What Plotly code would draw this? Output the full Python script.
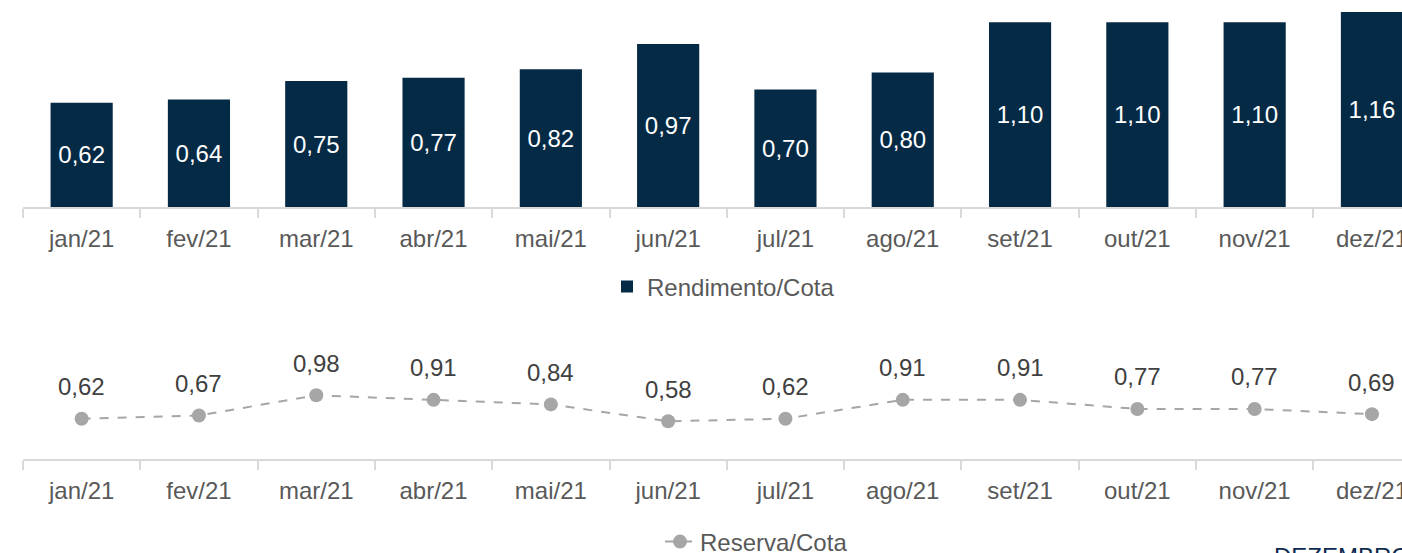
import plotly.graph_objects as go

months = ["jan/21", "fev/21", "mar/21", "abr/21", "mai/21", "jun/21",
          "jul/21", "ago/21", "set/21", "out/21", "nov/21", "dez/21"]
rendimento = [0.62, 0.64, 0.75, 0.77, 0.82, 0.97, 0.70, 0.80, 1.10, 1.10, 1.10, 1.16]
reserva = [0.62, 0.67, 0.98, 0.91, 0.84, 0.58, 0.62, 0.91, 0.91, 0.77, 0.77, 0.69]

W, H = 1402, 553
FONT = "Liberation Sans, Arial, sans-serif"
NAVY = "#042a46"
GREY = "#a6a6a6"
FS = 24

def fmt(v):
    return f"{v:.2f}".replace(".", ",")

def py(p):
    return 1 - p / H

xdom = [23 / W, 1.0]
cat_w = 117.3
xmax = -0.5 + (W - 23) / cat_w

fig = go.Figure()
fig.add_trace(go.Bar(
    x=months, y=rendimento, name="Rendimento/Cota",
    marker=dict(color=NAVY, line=dict(width=0)),
    width=0.53,
    text=[fmt(v) for v in rendimento], textposition="inside",
    insidetextanchor="middle", constraintext="none",
    textfont=dict(color="white", size=FS, family=FONT),
    xaxis="x", yaxis="y", legend="legend",
))
fig.add_trace(go.Scatter(
    x=months, y=reserva, name="Reserva/Cota", mode="lines+markers",
    line=dict(color=GREY, width=2, dash="dash"),
    marker=dict(color=GREY, size=14),
    xaxis="x2", yaxis="y2", legend="legend2",
))

for m, v in zip(months, reserva):
    fig.add_annotation(x=m, y=v, xref="x2", yref="y2", text=fmt(v),
                       showarrow=False, yshift=32, yanchor="middle",
                       font=dict(size=FS, color="#404040", family=FONT))

axis_common = dict(
    type="category", categoryorder="array", categoryarray=months,
    range=[-0.5, xmax], domain=xdom,
    showline=True, linecolor="#d9d9d9", linewidth=2,
    ticks="outside", tickson="boundaries", ticklen=9, tickcolor="#d9d9d9", tickwidth=2,
    tickfont=dict(size=FS, color="#595959", family=FONT),
    ticklabeloverflow="allow", ticklabelstandoff=9,
    showgrid=False, zeroline=False, fixedrange=True,
)

fig.update_layout(
    width=W, height=H,
    margin=dict(l=0, r=0, t=0, b=0, autoexpand=False),
    paper_bgcolor="white", plot_bgcolor="white",
    font=dict(family=FONT),
    xaxis=dict(anchor="y", **axis_common),
    yaxis=dict(domain=[py(207), 1.0], range=[0, 207 / 168], visible=False),
    xaxis2=dict(anchor="y2", **axis_common),
    yaxis2=dict(domain=[py(459), py(330)], range=[0, 129 / 65], visible=False),
    legend=dict(x=607 / W, y=py(287), xanchor="left", yanchor="middle",
                orientation="h", font=dict(size=FS, color="#595959", family=FONT),
                bgcolor="rgba(0,0,0,0)"),
    legend2=dict(x=660 / W, y=py(542), xanchor="left", yanchor="middle",
                 orientation="h", font=dict(size=FS, color="#595959", family=FONT),
                 bgcolor="rgba(0,0,0,0)"),
    showlegend=True,
)

fig.add_annotation(xref="paper", yref="paper", x=1272 / W, y=py(541),
                   xanchor="left", yanchor="top", text="DEZEMBRO 2021",
                   showarrow=False, font=dict(size=FS, color="#0d2a4f", family=FONT))

fig.write_html("out.html", config={"displayModeBar": False},
               post_script="document.body.style.margin='0';document.body.style.overflow='hidden';")
